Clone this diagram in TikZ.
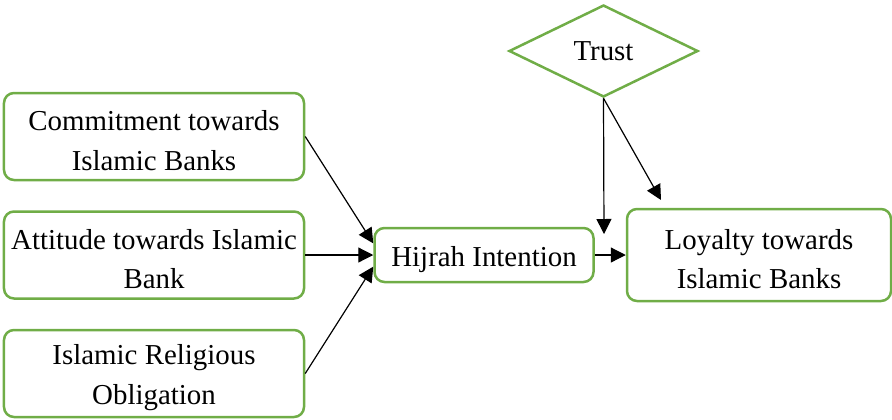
\documentclass[tikz,border=0pt]{standalone}
\usepackage{fontspec}
\setmainfont{Liberation Serif}
\usepackage{tikz}
\usetikzlibrary{arrows.meta,positioning,shapes.geometric}
\definecolor{boxgreen}{RGB}{112,173,71}
\tikzset{
    %Define standard arrow tip
    >={Triangle[length=15bp,width=15bp]},
    %Define style for boxes
    punktrect/.style={
    rectangle,
    rounded corners=10bp,
    draw=boxgreen, line width=2.5bp,
    minimum width=300bp,
    minimum height=87bp,
    text height=68bp,
    align=center,
    font=\fontsize{29}{40}\selectfont},
    punktdiam/.style={
    diamond,
    aspect=2,
    inner sep=0pt,
    draw=boxgreen, line width=2.5bp,
    minimum width=189bp,
    minimum height=92bp,
    font=\fontsize{29}{40}\selectfont},
    % Define arrow style
    pil/.style={
           ->,
           line width=1.2bp}
}
\begin{document}
\begin{tikzpicture}[x=1bp,y=-1bp,node distance=29bp]
\useasboundingbox (0,0) rectangle (892,419);

 %nodes
\node[punktrect](att) at (154,255){Attitude towards Islamic\\Bank};
\node[punktrect, above=of att](com){Commitment towards\\Islamic Banks};
\node[punktrect, below=of att](rel){Islamic Religious\\Obligation};
\node[punktrect, minimum width=219bp, minimum height=54bp, text height=30bp, right=68bp of att](hij){Hijrah Intention};
\node[punktrect, minimum width=264bp, minimum height=92bp, right=31bp of hij](loy){Loyalty towards\\Islamic Banks};
\node[punktdiam](trust) at (603.5,51){Trust};

\coordinate (drop) at (604,234);
\coordinate (slant) at (661,200);

 \path[pil]
    (com.east) edge (hij.174)
    (att.east) edge (hij.west)
    (rel.east) edge (hij.186)
    (trust.south) edge (drop)
    (trust.south) edge (slant)
    (hij.east) edge (loy.west);
\end{tikzpicture}
\end{document}
